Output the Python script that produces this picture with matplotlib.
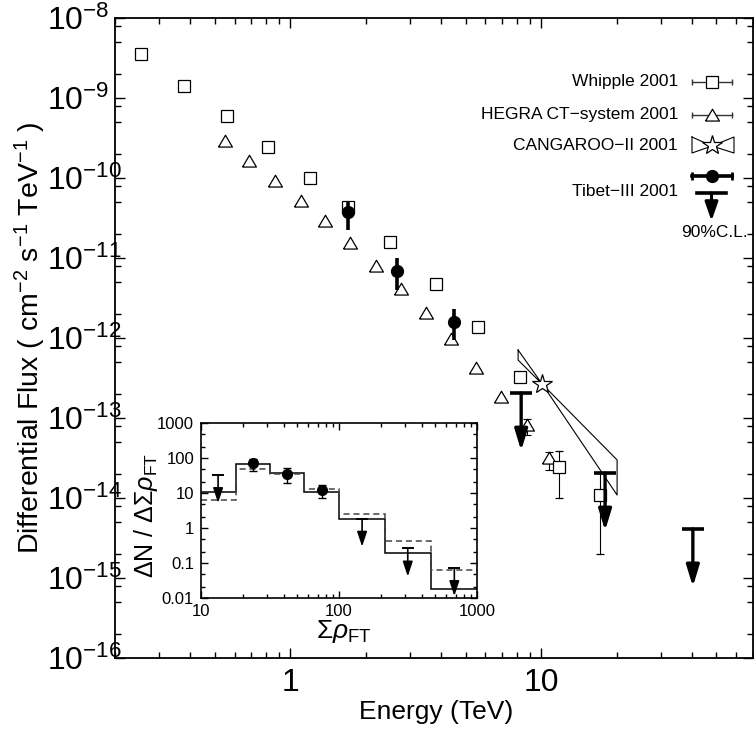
#! /usr/bin/env python3
"""Crab-like TeV spectrum: Whipple / HEGRA / CANGAROO / Tibet-III, with an inset histogram."""

import math
import matplotlib
matplotlib.use("Agg")
import matplotlib.pyplot as plt
from matplotlib.ticker import LogLocator, FixedLocator, FuncFormatter, NullFormatter

plt.rcParams['font.family'] = ['Liberation Sans', 'DejaVu Sans']
plt.rcParams['mathtext.fontset'] = 'custom'
plt.rcParams['mathtext.rm'] = 'Liberation Sans'
plt.rcParams['mathtext.it'] = 'Liberation Sans:italic'
plt.rcParams['mathtext.sf'] = 'Liberation Sans'

# ---- main spectrum data (E in TeV, flux in cm^-2 s^-1 TeV^-1) ----
whipple_e = [0.255, 0.378, 0.561, 0.817, 1.20, 1.70, 2.50, 3.82, 5.61, 8.25]
whipple_f = [3.55e-9, 1.41e-9, 5.96e-10, 2.44e-10, 1.0e-10, 4.34e-11, 1.58e-11,
             4.73e-12, 1.37e-12, 3.25e-13]
whipple_err_e = [11.8, 17.2]
whipple_err_f = [2.44e-14, 1.09e-14]
whipple_err_lo = [1.0e-14, 2.0e-15]
whipple_err_hi = [3.87e-14, 2.05e-14]

hegra_e = [0.551, 0.687, 0.871, 1.106, 1.379, 1.73, 2.20, 2.77, 3.48, 4.38, 5.51, 6.93]
hegra_f = [2.9e-10, 1.63e-10, 9.2e-11, 5.16e-11, 2.9e-11, 1.54e-11, 7.94e-12,
           4.1e-12, 2.05e-12, 9.7e-13, 4.2e-13, 1.83e-13]
hegra_err_e = [8.80, 10.8]
hegra_err_f = [8.2e-14, 3.16e-14]
hegra_err_lo = [6.1e-14, 2.24e-14]
hegra_err_hi = [9.7e-14, 3.76e-14]

cangaroo_e = [10.1]
cangaroo_f = [2.66e-13]
bowtie_e = [8.1, 10.1, 20.1, 20.1, 10.1, 8.1, 8.1]
bowtie_f = [7.08e-13, 2.66e-13, 1.09e-14, 2.99e-14, 2.66e-13, 5.3e-13, 7.08e-13]

tibet_e = [1.70, 2.67, 4.50]
tibet_f = [3.76e-11, 6.88e-12, 1.58e-12]
tibet_lo = [2.24e-11, 3.98e-12, 9.4e-13]
tibet_hi = [5.0e-11, 1.0e-11, 2.3e-12]
tibet_ul_e = [8.33, 18.0, 40.3]
tibet_ul_f = [2.05e-13, 2.05e-14, 4.1e-15]

flux_ticks = [1e-16, 1e-15, 1e-14, 1e-13, 1e-12, 1e-11, 1e-10, 1e-9, 1e-8]

# ---- inset data ----
hist_edges = [10, 17.8, 31.6, 56.2, 100, 215, 464, 1000]
hist_solid = [10.5, 66, 38, 10.5, 1.78, 0.19, 0.0185]
hist_dashed = [6.3, 48.5, 34, 12.6, 2.5, 0.43, 0.063]
inset_x = [23.7, 42, 74.8]
inset_y = [73.5, 34.2, 12.2]
inset_lo = [42.6, 18.9, 7.06]
inset_hi = [95, 50.8, 16.6]
inset_ul_x = [13.3, 147, 315, 685]
inset_ul_y = [32.7, 1.85, 0.26, 0.072]

W, H = 754, 738
fig = plt.figure(figsize=(W / 100, H / 100), dpi=100)
ax = fig.add_axes([115 / W, 80 / H, 638 / W, 640 / H])
ax.set_xscale('log')
ax.set_yscale('log')
ax.set_xlim(0.2, 70)
ax.set_ylim(1e-16, 1e-8)


def upper_limit(a, e, f, drop, bar_ms, lw, head_ms, hl, hw):
    a.plot(e, f, marker='_', ms=bar_ms, mew=lw + 0.2, color='k', zorder=5)
    a.annotate('', xy=(e, f * 10 ** -drop), xytext=(e, f),
               arrowprops=dict(arrowstyle='-|>,head_length=%g,head_width=%g' % (hl, hw),
                               lw=lw, color='k', shrinkA=0, shrinkB=0,
                               mutation_scale=head_ms), zorder=5)


# Whipple
ax.plot(whipple_e, whipple_f, 's', ms=8, mfc='white', mec='k', mew=0.9, zorder=4)
ax.errorbar(whipple_err_e, whipple_err_f,
            yerr=[[f - l for f, l in zip(whipple_err_f, whipple_err_lo)],
                  [h - f for f, h in zip(whipple_err_f, whipple_err_hi)]],
            fmt='s', ms=8, mfc='white', mec='k', mew=0.9, ecolor='k',
            elinewidth=0.8, capsize=3, capthick=0.8, zorder=4)

# HEGRA
tri = [(-1, -0.8), (1, -0.8), (0, 0.9), (-1, -0.8)]
ax.plot(hegra_e, hegra_f, marker=tri, ls='none', ms=10, mfc='white', mec='k',
        mew=0.9, zorder=4)
ax.errorbar(hegra_err_e, hegra_err_f,
            yerr=[[f - l for f, l in zip(hegra_err_f, hegra_err_lo)],
                  [h - f for f, h in zip(hegra_err_f, hegra_err_hi)]],
            fmt='none', ecolor='k', elinewidth=0.8, capsize=3, capthick=0.8, zorder=3)
ax.plot(hegra_err_e, hegra_err_f, marker=tri, ls='none', ms=10, mfc='white',
        mec='k', mew=0.9, zorder=4)

# CANGAROO-II
ax.plot(bowtie_e, bowtie_f, color='k', lw=0.8, zorder=3)
ax.plot(cangaroo_e, cangaroo_f, '*', ms=15, mfc='white', mec='k', mew=0.9, zorder=4)

# Tibet-III
ax.errorbar(tibet_e, tibet_f,
            yerr=[[f - l for f, l in zip(tibet_f, tibet_lo)],
                  [h - f for f, h in zip(tibet_f, tibet_hi)]],
            fmt='o', ms=8.5, color='k', elinewidth=2.6, capsize=0, zorder=6)
for e, f in zip(tibet_ul_e, tibet_ul_f):
    upper_limit(ax, e, f, 0.72, 16, 2.4, 15, 0.85, 0.26)

# axes styling
ax.xaxis.set_major_locator(FixedLocator([1, 10]))
ax.xaxis.set_major_formatter(FuncFormatter(lambda v, p: '%g' % v))
ax.xaxis.set_minor_locator(LogLocator(base=10, subs=range(2, 10), numticks=20))
ax.xaxis.set_minor_formatter(NullFormatter())
ax.yaxis.set_major_locator(FixedLocator(flux_ticks))
ax.yaxis.set_major_formatter(FuncFormatter(
    lambda v, p: r'$\mathdefault{10^{%d}}$' % round(math.log10(v))))
ax.yaxis.set_minor_locator(LogLocator(base=10, subs=(2, 5, 8), numticks=20))
ax.yaxis.set_minor_formatter(NullFormatter())
ax.tick_params(which='both', direction='in', top=True, right=True, width=1)
ax.tick_params(which='major', length=7, labelsize=23)
ax.tick_params(which='minor', length=4)
ax.tick_params(axis='x', which='major', pad=7)
ax.tick_params(axis='y', which='major', pad=49)
for lab in ax.get_yticklabels():
    lab.set_horizontalalignment('left')
for s in ax.spines.values():
    s.set_linewidth(1.3)

ax.set_xlabel('Energy (TeV)', fontsize=19)
ax.xaxis.set_label_coords(0.503, -0.066)
ax.set_ylabel('Differential Flux ( cm$^{-2}$ s$^{-1}$ TeV$^{-1}$ )', fontsize=20.5)
ax.yaxis.set_label_coords(-0.105, 0.5)


# ---- legend (drawn by hand, axes-fraction coordinates) ----
def fa(px, py):
    return ((px - 115) / 638.0, (658 - py) / 640.0)


T = ax.transAxes
leg_fs = 12.5
for label, py in [('Whipple 2001', 82), ('HEGRA CT\u2212system 2001', 115),
                  ('CANGAROO\u2212II 2001', 146), ('Tibet\u2212III 2001', 192)]:
    x, y = fa(678, py)
    ax.text(x, y, label, transform=T, ha='right', va='center', fontsize=leg_fs)

for py, mk, ms in [(82, 's', 8), (115, tri, 10)]:
    (x0, y), (x1, _) = fa(692, py), fa(732, py)
    xc = (x0 + x1) / 2
    ax.plot([x0, x1], [y, y], color='#333333', lw=1, transform=T)
    ax.plot([x0, x1], [y, y], ls='none', marker='|', ms=5, mew=1, color='#333333', transform=T)
    ax.plot(xc, y, marker=mk, ms=ms, mfc='white', mec='k', mew=0.9, transform=T)

# CANGAROO bowtie symbol
bx = [fa(692, 137), fa(692, 153), fa(712, 146), fa(734, 137), fa(734, 153), fa(712, 146), fa(692, 137)]
ax.plot([p[0] for p in bx], [p[1] for p in bx], color='k', lw=0.8, transform=T)
cx, cy = fa(712, 145)
ax.plot(cx, cy, '*', ms=15, mfc='white', mec='k', mew=0.9, transform=T)

# Tibet symbol
(x0, y), (x1, _) = fa(692, 176), fa(732, 176)
ax.plot([x0, x1], [y, y], color='k', lw=2.6, transform=T)
ax.plot([x0, x1], [y, y], ls='none', marker='|', ms=6, mew=2, color='k', transform=T)
ax.plot((x0 + x1) / 2, y, 'o', ms=8.5, color='k', transform=T)
bx0, by = fa(697, 193)
bx1, _ = fa(726, 193)
ax.plot([bx0, bx1], [by, by], color='k', lw=2.6, transform=T)
ax.annotate('', xy=fa(711.5, 221), xytext=fa(711.5, 193), xycoords=T, textcoords=T,
            arrowprops=dict(arrowstyle='-|>,head_length=0.75,head_width=0.26', lw=2.2,
                            color='k', shrinkA=0, shrinkB=0, mutation_scale=15))
x, y = fa(714, 233)
ax.text(x, y, '90%C.L.', transform=T, ha='center', va='center', fontsize=leg_fs)

# ---- inset ----
ins = fig.add_axes([201 / W, 140 / H, 276 / W, 175 / H])
ins.set_xscale('log')
ins.set_yscale('log')
ins.set_xlim(10, 1000)
ins.set_ylim(0.01, 1000)
ins.stairs(hist_solid, hist_edges, baseline=None, color='k', lw=1.1)
ins.stairs(hist_dashed, hist_edges, baseline=None, color='#444444', lw=1.1,
           ls=(0, (4, 2.5)))
ins.errorbar(inset_x, inset_y,
             yerr=[[y - l for y, l in zip(inset_y, inset_lo)],
                   [h - y for y, h in zip(inset_y, inset_hi)]],
             fmt='o', ms=7, color='k', elinewidth=1, capsize=3, capthick=1, zorder=5)
for xv, yv in zip(inset_ul_x, inset_ul_y):
    upper_limit(ins, xv, yv, 0.8, 8, 1.2, 10, 0.9, 0.3)

ins.xaxis.set_major_locator(FixedLocator([10, 100, 1000]))
ins.xaxis.set_major_formatter(FuncFormatter(lambda v, p: '%g' % v))
ins.xaxis.set_minor_locator(LogLocator(base=10, subs=range(2, 10), numticks=20))
ins.xaxis.set_minor_formatter(NullFormatter())
ins.yaxis.set_major_locator(FixedLocator([0.01, 0.1, 1, 10, 100, 1000]))
ins.yaxis.set_major_formatter(FuncFormatter(lambda v, p: '%g' % v))
ins.yaxis.set_minor_locator(LogLocator(base=10, subs=(2, 5), numticks=20))
ins.yaxis.set_minor_formatter(NullFormatter())
ins.tick_params(which='both', direction='in', top=True, right=True, width=1, labelsize=12)
ins.tick_params(which='major', length=5)
ins.tick_params(which='minor', length=3)
ins.tick_params(axis='x', which='major', pad=4)
ins.tick_params(axis='y', which='major', pad=5)
for s in ins.spines.values():
    s.set_linewidth(1.2)
ins.set_xlabel(r'$\Sigma\rho_{\mathrm{FT}}$', fontsize=19)
ins.xaxis.set_label_coords(0.518, -0.115)
ins.set_ylabel(r'$\Delta\mathrm{N}\ /\ \Delta\Sigma\rho_{\mathrm{FT}}$', fontsize=18)
ins.yaxis.set_label_coords(-0.15, 0.47)

fig.savefig('out.png', dpi=100)
